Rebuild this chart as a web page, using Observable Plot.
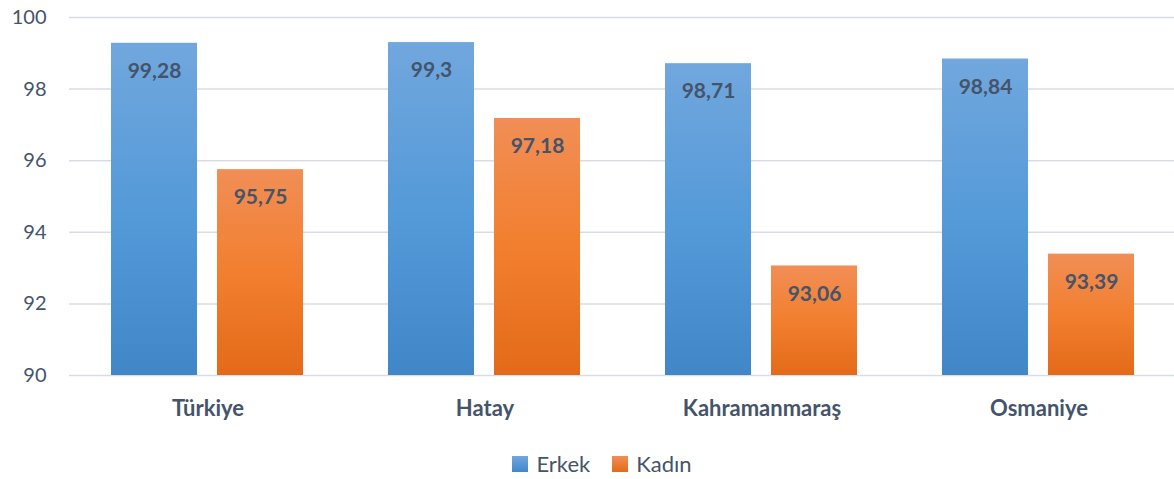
<!DOCTYPE html>
<html>
<head>
<meta charset="utf-8">
<script src="https://cdn.jsdelivr.net/npm/d3@7"></script>
<script src="https://cdn.jsdelivr.net/npm/@observablehq/plot@0.6"></script>
<style>
  body { margin: 0; background: #fff; font-family: Lato, "Open Sans", sans-serif; overflow: hidden; }
  #legend { display: flex; justify-content: center; align-items: center; height: 39px; padding-top: 4px; padding-left: 30px; color: #44546a; font-size: 22px; }
  .item { display: flex; align-items: center; margin: 0 11px; }
  .sw { width: 16px; height: 16px; margin-right: 8px; }
</style>
</head>
<body>
<div id="chart"></div>
<div id="legend"></div>
<script>
const regions = ["Türkiye", "Hatay", "Kahramanmaraş", "Osmaniye"];
const series = ["Erkek", "Kadın"];
const erkek = [99.28, 99.3, 98.71, 98.84];
const kadin = [95.75, 97.18, 93.06, 93.39];
const yTicks = [90, 92, 94, 96, 98, 100];

const data = [];
regions.forEach((r, i) => {
  data.push({region: r, series: "Erkek", value: erkek[i]});
  data.push({region: r, series: "Kadın", value: kadin[i]});
});
const fmt = v => String(v).replace(".", ",");

const chart = Plot.plot({
  width: 1174,
  height: 440,
  marginLeft: 67,
  marginRight: -4,
  marginTop: 17,
  marginBottom: 65,
  style: {fontFamily: "Lato, 'Open Sans', sans-serif", color: "#44546a", background: "#fff", overflow: "hidden"},
  fx: {domain: regions, padding: 0, label: null},
  x: {domain: series, paddingInner: 0.187, paddingOuter: 0.39, axis: null},
  y: {domain: [90, 100], ticks: yTicks, label: null},
  color: {domain: series, range: ["url(#gBlue)", "url(#gOrange)"]},
  marks: [
    Plot.ruleY(yTicks, {stroke: "#d9dde3", strokeWidth: 1.5}),
    Plot.axisY({ticks: yTicks, tickSize: 0, tickPadding: 23, fontSize: 20, label: null}),
    Plot.axisFx({anchor: "bottom", tickSize: 0, tickPadding: 25, fontSize: 22, fontWeight: "bold", label: null}),
    Plot.barY(data, {fx: "region", x: "series", y1: () => 90, y2: "value", fill: "series"}),
    Plot.text(data, {fx: "region", x: "series", y: "value", text: d => fmt(d.value), dy: 28, fontSize: 21, fontWeight: "bold", fill: "#44546a"})
  ]
});

const svg = d3.select(chart);
const defs = svg.insert("defs", ":first-child");
const g1 = defs.append("linearGradient").attr("id", "gBlue").attr("x1", 0).attr("y1", 0).attr("x2", 0).attr("y2", 1);
g1.append("stop").attr("offset", "0%").attr("stop-color", "#71a7dd");
g1.append("stop").attr("offset", "50%").attr("stop-color", "#559ad9");
g1.append("stop").attr("offset", "100%").attr("stop-color", "#4187c8");
const g2 = defs.append("linearGradient").attr("id", "gOrange").attr("x1", 0).attr("y1", 0).attr("x2", 0).attr("y2", 1);
g2.append("stop").attr("offset", "0%").attr("stop-color", "#f18e56");
g2.append("stop").attr("offset", "50%").attr("stop-color", "#f27f2f");
g2.append("stop").attr("offset", "100%").attr("stop-color", "#e36a19");

document.getElementById("chart").appendChild(chart);

const legend = document.getElementById("legend");
const swatchFill = {"Erkek": "linear-gradient(#71a7dd, #4187c8)", "Kadın": "linear-gradient(#f18e56, #e36a19)"};
series.forEach(s => {
  const item = document.createElement("div");
  item.className = "item";
  const sw = document.createElement("div");
  sw.className = "sw";
  sw.style.background = swatchFill[s];
  const t = document.createElement("span");
  t.textContent = s;
  item.appendChild(sw);
  item.appendChild(t);
  legend.appendChild(item);
});
</script>
</body>
</html>
